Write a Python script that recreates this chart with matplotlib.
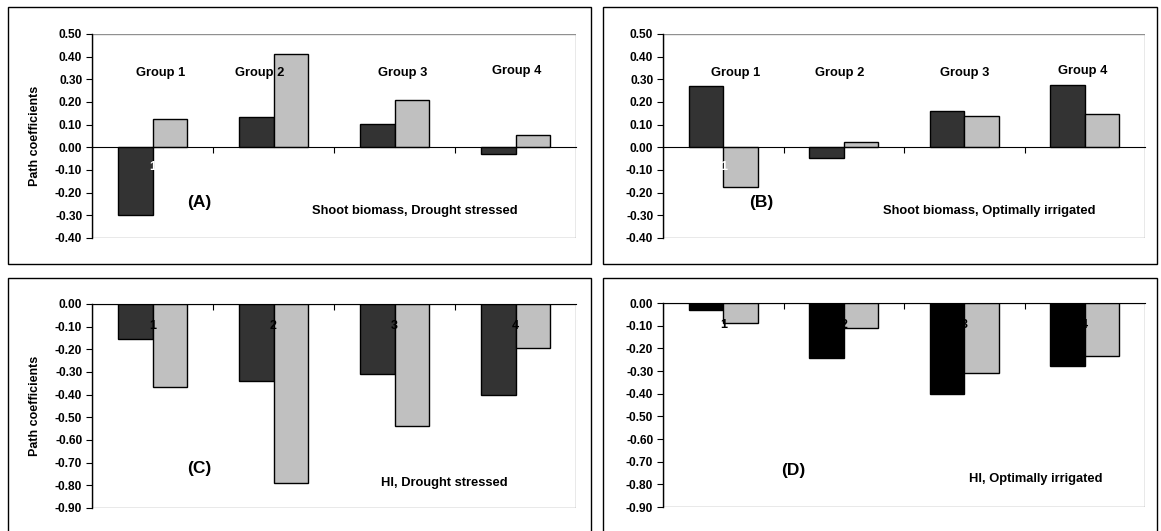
import matplotlib.pyplot as plt
import numpy as np
from matplotlib.patches import Rectangle

plt.rcParams['font.family'] = ['Liberation Sans', 'DejaVu Sans']
plt.rcParams['font.weight'] = 'bold'
plt.rcParams['axes.labelweight'] = 'bold'

# values (dark bar, light bar per group)
groups = ['1', '2', '3', '4']
group_titles = ['Group 1', 'Group 2', 'Group 3', 'Group 4']
a_dark = [-0.30, 0.135, 0.105, -0.03]
a_light = [0.125, 0.41, 0.21, 0.055]
b_dark = [0.27, -0.045, 0.16, 0.275]
b_light = [-0.175, 0.022, 0.138, 0.148]
c_dark = [-0.155, -0.34, -0.31, -0.403]
c_light = [-0.365, -0.79, -0.54, -0.195]
d_dark = [-0.032, -0.243, -0.40, -0.278]
d_light = [-0.09, -0.11, -0.31, -0.232]

W, H = 1161, 531
fig = plt.figure(figsize=(W / 100, H / 100), dpi=100)


def px_axes(l, t, r, b):
    return fig.add_axes([l / W, 1 - b / H, (r - l) / W, (b - t) / H])


def box(l, t, r, b):
    fig.patches.append(Rectangle((l / W, 1 - b / H), (r - l) / W, (b - t) / H,
                                 transform=fig.transFigure, fill=False,
                                 edgecolor='black', lw=1.0))


def fmt(v, pos):
    if abs(v) < 1e-9:
        v = 0.0
    return '%.2f' % v


def panel(ax, dark, light, ylim, dark_col, lab_col, lab_y, ylabel):
    x = np.arange(len(groups))
    w = 0.285
    ax.bar(x - w / 2, dark, w, color=dark_col, edgecolor='black', lw=1.0, zorder=2)
    ax.bar(x + w / 2, light, w, color='#c0c0c0', edgecolor='black', lw=1.0, zorder=2)
    ax.set_xlim(-0.5, len(groups) - 0.5)
    ax.set_ylim(*ylim)
    ax.set_yticks(np.round(np.arange(ylim[0], ylim[1] + 0.001, 0.1), 2))
    ax.yaxis.set_major_formatter(plt.FuncFormatter(fmt))
    for s in ['top', 'right']:
        ax.spines[s].set_visible(False)
    ax.spines['bottom'].set_position(('data', 0))
    ax.spines['bottom'].set_zorder(3)
    ax.spines['left'].set_linewidth(1.0)
    ax.add_patch(Rectangle((0, 0), 1, 1, transform=ax.transAxes, fill=False,
                           edgecolor='#909090', lw=1.0, zorder=1))
    ax.set_xticks(x[:-1] + 0.5)
    ax.tick_params(axis='x', direction='out', length=4, labelbottom=False)
    ax.tick_params(axis='y', direction='out', length=4, pad=3, labelsize=8.6)
    for xi, g in zip(x, groups):
        ax.text(xi, lab_y, g, color=lab_col, ha='center', va='center',
                fontsize=9, zorder=4)
    if ylabel:
        ax.set_ylabel('Path coefficients', fontsize=9)
        ax.yaxis.set_label_coords(-0.105, 0.5)


# outer frames
box(8, 7, 591, 264)
box(603, 7, 1157, 264)
box(8, 278, 591, 540)
box(603, 278, 1157, 540)

axA = px_axes(92, 34, 576, 238)
panel(axA, a_dark, a_light, (-0.4, 0.5), '#333333', 'white', -0.088, True)
axB = px_axes(663, 34, 1145, 238)
panel(axB, b_dark, b_light, (-0.4, 0.5), '#333333', 'white', -0.088, False)
axC = px_axes(92, 304, 576, 508)
panel(axC, c_dark, c_light, (-0.9, 0.0), '#333333', 'black', -0.095, True)
axD = px_axes(663, 303, 1145, 507)
panel(axD, d_dark, d_light, (-0.9, 0.0), '#000000', 'black', -0.095, False)


def ftext(x, y, s, size=9.3):
    fig.text(x / W, 1 - y / H, s, ha='center', va='center', fontsize=size)


# group titles above the top panels
for xp, yp, t in zip([161, 260, 403, 517], [73, 73, 73, 71], group_titles):
    ftext(xp, yp, t)
for xp, yp, t in zip([736, 840, 965, 1083], [73, 73, 73, 71], group_titles):
    ftext(xp, yp, t)

ftext(199, 203, '(A)', 12.5)
ftext(415, 211, 'Shoot biomass, Drought stressed')
ftext(761, 203, '(B)', 12.5)
ftext(989, 211, 'Shoot biomass, Optimally irrigated')
ftext(199, 469, '(C)', 12.5)
ftext(444, 483, 'HI, Drought stressed')
ftext(793, 470, '(D)', 12.5)
ftext(1036, 479, 'HI, Optimally irrigated')

fig.savefig('out.png', dpi=100)
